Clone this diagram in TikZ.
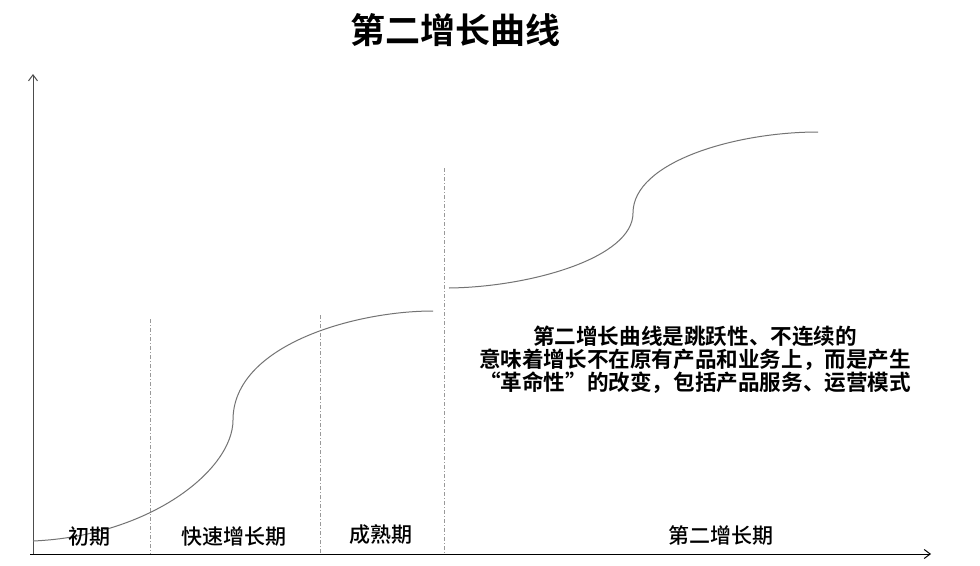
\documentclass[tikz,border=0pt]{standalone}
\usepackage{fontspec}
\usetikzlibrary{arrows.meta}
\newfontfamily\cjk{Noto Sans CJK SC Medium}
\newfontfamily\cjkb{Noto Sans CJK SC Bold}
\newcommand{\lqfw}{\makebox[1em][r]{“}}
\newcommand{\rqfw}{\makebox[1em][l]{”}}
\begin{document}
\begin{tikzpicture}[x=1pt,y=-1pt,
  axis/.style={line width=1pt,-{Straight Barb[length=6pt,width=9pt]}},
  divider/.style={gray!80,line width=0.7pt,dash pattern=on 4pt off 2pt on 1pt off 2pt},
  scurve/.style={gray!90!black,line width=1pt},
  phase/.style={font=\cjk\fontsize{21}{24}\selectfont,inner sep=0pt},
  note/.style={font=\cjkb\fontsize{21.6}{23}\selectfont,align=center,inner sep=0pt}]
\useasboundingbox (0,0) rectangle (980,565);
\fill[white] (0,0) rectangle (980,565);
% title
\node[font=\cjkb\fontsize{35}{38}\selectfont,inner sep=0pt] (title) at (455,30) {第二增长曲线};
% axes
\coordinate (o) at (33,554);
\coordinate (ytop) at (33,74);
\coordinate (xend) at (931,554);
\draw[axis,black!70] (o) -- (ytop);
\draw[axis,black] (30,554) -- (xend);
% dividers
\coordinate (d1t) at (150,319); \coordinate (d1b) at (150,554);
\coordinate (d2t) at (320,315); \coordinate (d2b) at (320,554);
\coordinate (d3t) at (444,168); \coordinate (d3b) at (444,554);
\draw[divider] (d1t) -- (d1b);
\draw[divider] (d2t) -- (d2b);
\draw[divider] (d3t) -- (d3b);
% first curve
\coordinate (c1s) at (33,541);
\coordinate (c1m) at (233,420);
\coordinate (c1e) at (433,311);
\draw[scurve] (c1s) .. controls (150,536) and (233,470) .. (c1m)
  .. controls (233,345) and (355,311) .. (c1e);
% second curve
\coordinate (c2s) at (449,288);
\coordinate (c2m) at (633,213);
\coordinate (c2e) at (818,132);
\draw[scurve] (c2s) .. controls (530,287) and (633,258) .. (c2m)
  .. controls (633,162) and (735,132) .. (c2e);
% phase labels
\node[phase] (p1) at (89,537) {初期};
\node[phase] (p2) at (234,537) {快速增长期};
\node[phase] (p3) at (381,535) {成熟期};
\node[phase] (p4) at (721,535) {第二增长期};
% note
\node[note] (n) at (695,360) {第二增长曲线是跳跃性、不连续的\\意味着增长不在原有产品和业务上，而是产生\\\lqfw 革命性\rqfw 的改变，包括产品服务、运营模式};
\end{tikzpicture}
\end{document}
